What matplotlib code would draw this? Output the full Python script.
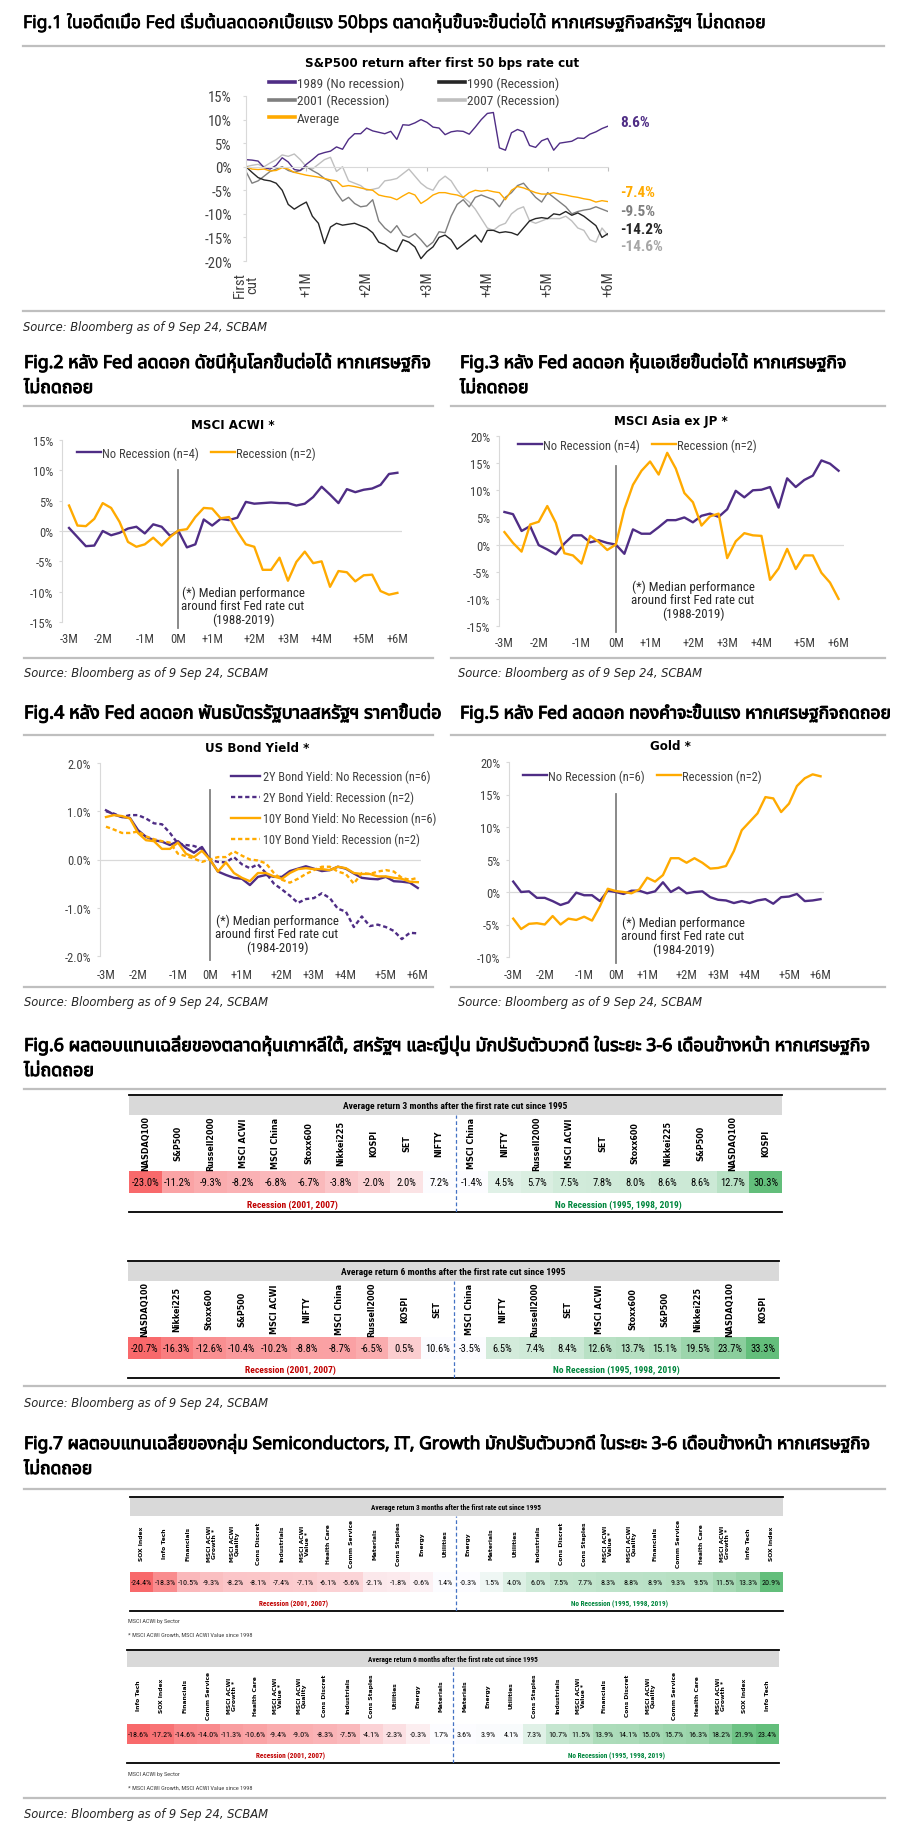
import numpy as np
import matplotlib
matplotlib.use('Agg')
import matplotlib.pyplot as plt
import matplotlib.font_manager as fm
import matplotlib.patheffects as pe
from matplotlib.ft2font import FT2Font
from matplotlib.lines import Line2D
from matplotlib.patches import Rectangle
from matplotlib.colors import LinearSegmentedColormap, Normalize

############# data #############
# Fig.1 S&P500 after first 50bps cut (about one value per 0.1 month)
sp_1989 = [1.5, 1.4, 1.2, -0.2, -0.5, 0.3, 1.9, 1.0, -0.6, -0.8, 0.5, 1.5, 2.6, 3.0, 3.3, 4.2, 3.7, 5.8, 7.0, 7.0,
           8.2, 7.6, 7.3, 7.0, 7.5, 5.8, 8.9, 8.8, 9.3, 10.0, 9.4, 8.4, 8.2, 6.8, 7.4, 7.6, 7.5, 6.9, 8.4, 10.0,
           11.3, 11.5, 4.0, 3.5, 7.2, 7.9, 7.4, 4.5, 4.1, 5.5, 6.0, 3.5, 5.0, 5.2, 5.4, 6.1, 6.0, 6.9, 7.4, 8.1, 8.6]
sp_1990 = [0.0, -1.2, -2.3, -2.8, -3.0, -3.5, -5.0, -8.0, -9.0, -8.2, -7.5, -10.5, -12.0, -16.3, -12.8, -12.0, -12.4,
           -12.2, -12.0, -12.5, -13.0, -14.0, -16.0, -16.5, -17.5, -18.0, -15.5, -16.0, -17.0, -19.5, -18.0, -17.0,
           -15.0, -14.5, -15.5, -17.5, -16.5, -15.5, -14.5, -16.0, -13.5, -13.5, -14.0, -13.8, -14.0, -14.5, -13.0,
           -11.5, -11.0, -10.8, -11.0, -10.0, -10.2, -9.5, -10.3, -9.8, -10.5, -11.5, -12.5, -15.0, -14.2]
sp_2001 = [-1.0, -3.5, -3.0, -2.0, -1.0, -0.5, 0.0, -0.8, -1.2, -0.8, 0.0, -0.8, -1.5, -2.5, -3.2, -5.5, -7.3, -6.5,
           -7.8, -8.5, -8.3, -7.0, -11.5, -13.0, -14.0, -12.5, -14.5, -15.0, -14.2, -15.5, -17.0, -16.0, -13.8, -14.0,
           -10.5, -8.0, -7.0, -8.5, -6.5, -6.0, -6.5, -7.0, -8.5, -6.5, -5.5, -4.0, -3.5, -5.0, -6.5, -7.5, -5.5,
           -6.5, -7.5, -8.5, -10.0, -9.5, -9.2, -9.0, -8.5, -9.0, -9.5]
sp_2007 = [0.0, 0.3, 0.5, 0.0, 0.8, 1.5, 2.5, 2.2, 2.7, 1.5, 0.0, -0.5, 0.5, 1.5, 2.0, -1.0, 0.0, -3.0, -3.5, -4.0,
           -5.0, -4.8, -4.5, -3.0, -2.8, -2.5, -1.5, -0.5, -2.0, -3.5, -4.5, -5.0, -3.0, -2.0, -3.0, -5.0, -6.5, -7.5,
           -9.0, -11.0, -13.0, -13.5, -12.5, -12.0, -10.0, -9.0, -8.5, -11.5, -12.0, -11.5, -11.0, -11.0, -11.0,
           -10.5, -11.5, -13.0, -13.5, -15.5, -16.0, -13.0, -14.6]
sp_avg = [0.0, -0.5, -0.6, -0.5, -0.9, -0.8, -0.2, -0.5, -1.2, -1.5, -1.8, -2.0, -2.2, -2.5, -2.8, -3.0, -4.2, -4.0,
          -4.2, -4.5, -4.8, -5.0, -6.0, -6.3, -6.5, -7.0, -6.2, -5.5, -6.0, -7.8, -7.0, -6.0, -5.5, -5.5, -5.8, -6.0,
          -6.5, -5.5, -5.0, -5.2, -5.0, -5.3, -5.5, -7.0, -5.0, -4.2, -4.5, -5.0, -5.5, -5.8, -5.8, -5.5, -5.8, -6.0,
          -6.3, -6.5, -6.8, -7.0, -7.5, -7.2, -7.4]
sp_months = ['First\ncut', '+1M', '+2M', '+3M', '+4M', '+5M', '+6M']

# Fig.2-5 weekly medians around first cut
week_ticks = [0, 4, 9, 13, 17, 22, 26, 30, 35, 39]
week_labels = ['-3M', '-2M', '-1M', '0M', '+1M', '+2M', '+3M', '+4M', '+5M', '+6M']

acwi_norec = [0.5, -1.0, -2.5, -2.4, 0.0, -0.7, -0.3, 0.4, 0.7, -0.4, 1.1, 0.7, -0.8, 0.0, -2.7, -2.2, 1.9, 0.9, 2.0,
              1.8, 2.2, 4.8, 4.5, 4.6, 4.7, 4.6, 4.6, 4.2, 4.5, 5.6, 7.3, 6.0, 4.6, 6.9, 6.4, 6.8, 7.0, 7.6, 9.4, 9.6]
acwi_rec = [4.2, 0.9, 0.8, 2.0, 4.6, 3.8, 1.5, -1.8, -2.6, -2.2, -1.1, -2.4, -1.0, 0.1, 0.3, 2.3, 3.8, 3.7, 2.1, 2.3,
            -0.1, -2.2, -2.6, -6.4, -6.4, -4.4, -8.2, -5.1, -3.4, -5.3, -5.0, -9.2, -6.6, -6.8, -8.3, -7.3, -7.2,
            -9.9, -10.5, -10.2]

asia_norec = [6.0, 5.6, 2.5, 3.4, -0.1, -0.9, -1.8, 0.2, 1.7, 1.7, 0.4, 0.8, 0.3, 0.0, -1.7, 2.8, 2.0, 2.0, 3.2, 4.5,
              4.5, 5.0, 4.1, 5.3, 5.7, 5.1, 6.5, 9.9, 8.7, 10.0, 10.1, 10.6, 6.8, 12.2, 10.6, 11.9, 12.7, 15.5, 14.9,
              13.6]
asia_rec = [2.3, 0.3, -1.3, 3.7, 4.2, 7.1, 4.0, -1.6, -2.0, -3.5, 1.6, 0.5, -1.0, 0.0, 6.5, 11.0, 13.6, 15.3, 12.9,
            16.9, 14.0, 9.5, 7.8, 3.5, 5.2, 5.7, -2.5, 0.6, 2.1, 1.7, 1.6, -6.5, -4.4, -0.8, -4.5, -2.0, -2.0, -5.2,
            -7.0, -10.0]

y2_norec = [1.02, 0.93, 0.88, 0.86, 0.61, 0.47, 0.40, 0.37, 0.30, 0.38, 0.24, 0.14, 0.26, 0.0, -0.25, -0.32, -0.38,
            -0.40, -0.53, -0.36, -0.32, -0.36, -0.36, -0.24, -0.19, -0.14, -0.19, -0.24, -0.22, -0.15, -0.19, -0.29,
            -0.38, -0.40, -0.41, -0.36, -0.45, -0.46, -0.48, -0.59]
y2_rec = [1.00, 0.95, 0.88, 0.92, 0.92, 0.85, 0.75, 0.73, 0.55, 0.33, 0.30, 0.28, 0.22, 0.0, -0.05, -0.06, 0.05,
          -0.10, -0.18, -0.10, -0.28, -0.50, -0.62, -0.75, -0.90, -0.82, -0.80, -0.70, -0.80, -1.02, -1.08, -1.40,
          -1.18, -1.38, -1.35, -1.40, -1.48, -1.65, -1.52, -1.53]
y10_norec = [0.88, 0.92, 0.90, 0.85, 0.55, 0.40, 0.38, 0.22, 0.22, 0.35, 0.12, 0.05, 0.18, 0.0, -0.25, -0.06, -0.28,
             -0.38, -0.45, -0.28, -0.28, -0.35, -0.40, -0.28, -0.20, -0.18, -0.20, -0.20, -0.22, -0.15, -0.18, -0.28,
             -0.30, -0.30, -0.35, -0.35, -0.38, -0.40, -0.46, -0.47]
y10_rec = [0.68, 0.62, 0.55, 0.55, 0.58, 0.48, 0.42, 0.38, 0.35, 0.12, 0.07, 0.02, -0.05, 0.0, 0.05, 0.05, 0.17, 0.08,
           0.0, -0.02, -0.08, -0.28, -0.42, -0.48, -0.40, -0.30, -0.22, -0.15, -0.15, -0.25, -0.30, -0.50, -0.28,
           -0.30, -0.25, -0.22, -0.25, -0.38, -0.42, -0.38]

gold_norec = [1.6, 0.0, 0.1, -0.9, -0.9, -1.4, -2.0, -1.6, -0.1, -0.5, -0.5, -1.4, 0.2, 0.0, -0.3, 0.2, 0.2, -0.2, 0.1,
              1.5, 0.0, 0.7, -0.2, 0.0, 0.1, -0.8, -1.2, -1.3, -1.7, -1.4, -1.7, -1.3, -1.1, -1.8, -0.8, -0.7, -0.3,
              -1.4, -1.3, -1.1]
gold_rec = [-4.1, -5.7, -4.9, -4.8, -5.0, -3.7, -5.0, -4.1, -4.3, -3.8, -4.4, -2.2, 0.5, 0.15, 0.0, -0.2, 0.4, 2.2,
            1.6, 2.6, 5.2, 5.2, 4.5, 5.2, 4.5, 3.6, 3.7, 4.0, 6.3, 9.5, 10.8, 12.1, 14.6, 14.4, 12.3, 13.6, 16.3,
            17.5, 18.1, 17.8]

# Fig.6 market tables
m3_rec_lbl = ['NASDAQ100', 'S&P500', 'Russell2000', 'MSCI ACWI', 'MSCI China', 'Stoxx600', 'Nikkei225', 'KOSPI', 'SET', 'NIFTY']
m3_rec_val = [-23.0, -11.2, -9.3, -8.2, -6.8, -6.7, -3.8, -2.0, 2.0, 7.2]
m3_nrec_lbl = ['MSCI China', 'NIFTY', 'Russell2000', 'MSCI ACWI', 'SET', 'Stoxx600', 'Nikkei225', 'S&P500', 'NASDAQ100', 'KOSPI']
m3_nrec_val = [-1.4, 4.5, 5.7, 7.5, 7.8, 8.0, 8.6, 8.6, 12.7, 30.3]
m6_rec_lbl = ['NASDAQ100', 'Nikkei225', 'Stoxx600', 'S&P500', 'MSCI ACWI', 'NIFTY', 'MSCI China', 'Russell2000', 'KOSPI', 'SET']
m6_rec_val = [-20.7, -16.3, -12.6, -10.4, -10.2, -8.8, -8.7, -6.5, 0.5, 10.6]
m6_nrec_lbl = ['MSCI China', 'NIFTY', 'Russell2000', 'SET', 'MSCI ACWI', 'Stoxx600', 'S&P500', 'Nikkei225', 'NASDAQ100', 'KOSPI']
m6_nrec_val = [-3.5, 6.5, 7.4, 8.4, 12.6, 13.7, 15.1, 19.5, 23.7, 33.3]

# Fig.7 sector tables
s3_rec_lbl = ['SOX Index', 'Info Tech', 'Financials', 'MSCI ACWI\nGrowth *', 'MSCI ACWI\nQuality', 'Cons Discret',
              'Industrials', 'MSCI ACWI\nValue *', 'Health Care', 'Comm Service', 'Materials', 'Cons Staples', 'Energy', 'Utilities']
s3_rec_val = [-24.4, -18.3, -10.5, -9.3, -8.2, -8.1, -7.4, -7.1, -6.1, -5.6, -2.1, -1.8, -0.6, 1.4]
s3_nrec_lbl = ['Energy', 'Materials', 'Utilities', 'Industrials', 'Cons Discret', 'Cons Staples', 'MSCI ACWI\nValue *',
               'MSCI ACWI\nQuality', 'Financials', 'Comm Service', 'Health Care', 'MSCI ACWI\nGrowth *', 'Info Tech', 'SOX Index']
s3_nrec_val = [-0.3, 1.5, 4.0, 6.0, 7.5, 7.7, 8.3, 8.8, 8.9, 9.3, 9.5, 11.5, 13.3, 20.9]
s6_rec_lbl = ['Info Tech', 'SOX Index', 'Financials', 'Comm Service', 'MSCI ACWI\nGrowth *', 'Health Care',
              'MSCI ACWI\nValue *', 'MSCI ACWI\nQuality', 'Cons Discret', 'Industrials', 'Cons Staples', 'Utilities', 'Energy', 'Materials']
s6_rec_val = [-18.6, -17.2, -14.6, -14.0, -11.3, -10.6, -9.4, -9.0, -8.3, -7.5, -4.1, -2.3, -0.3, 1.7]
s6_nrec_lbl = ['Materials', 'Energy', 'Utilities', 'Cons Staples', 'Industrials', 'MSCI ACWI\nValue *', 'Financials',
               'Cons Discret', 'MSCI ACWI\nQuality', 'Comm Service', 'Health Care', 'MSCI ACWI\nGrowth *', 'SOX Index', 'Info Tech']
s6_nrec_val = [3.6, 3.9, 4.1, 7.3, 10.7, 11.5, 13.9, 14.1, 15.0, 15.7, 16.3, 18.2, 21.9, 23.4]

SOURCE = 'Source: Bloomberg as of 9 Sep 24, SCBAM'

############# fonts #############
names = set(f.name for f in fm.fontManager.ttflist)

def pick(*cands):
    for c in cands:
        if c in names:
            return c
    return 'DejaVu Sans'

def thai_font():
    prefer = ['Noto Sans Thai', 'Noto Sans Thai UI', 'Noto Sans Thai Looped', 'Sarabun', 'Prompt', 'Kanit',
              'Loma', 'Garuda', 'Waree', 'Umpush', 'Sawasdee', 'Kinnari', 'Norasi', 'FreeSans']
    found = []
    for f in fm.fontManager.ttflist:
        try:
            if FT2Font(f.fname).get_char_index(0x0E01):
                found.append(f.name)
        except Exception:
            pass
    for p in prefer:
        if p in found:
            return p
    return found[0] if found else 'DejaVu Sans'

NARROW = pick('Liberation Sans Narrow', 'Roboto Condensed', 'Open Sans Condensed', 'Liberation Sans')
THAI = thai_font()
plt.rcParams['font.family'] = [NARROW, 'DejaVu Sans']

PURPLE = '#4F2D85'
ORANGE = '#FFAA00'
GRID = '#D9D9D9'
TXT = '#404040'

W, H = 900, 1840
fig = plt.figure(figsize=(W / 100, H / 100), dpi=100)

def ftext(x, y, s, **kw):
    return fig.text(x / W, 1 - y / H, s, **kw)

def fit(t, width):
    r = fig.canvas.get_renderer()
    w = t.get_window_extent(r).width
    t.set_fontsize(t.get_fontsize() * width / w)
    return t.get_fontsize()

def sep(y, x0, x1):
    fig.add_artist(Line2D([x0 / W, x1 / W], [1 - y / H] * 2, color='#BFBFBF', lw=1.6))

def title(x, y, lines, width, weight='bold', stroke=0.7, gap=25):
    # heavier look for the Thai headings
    fx = [pe.withStroke(linewidth=stroke, foreground='black')]
    t = ftext(x, y, lines[0], family=[THAI, 'DejaVu Sans'], weight=weight, fontsize=13, va='center',
              color='black', path_effects=fx)
    fs = fit(t, width)
    for i, s in enumerate(lines[1:]):
        ftext(x, y + gap * (i + 1), s, family=[THAI, 'DejaVu Sans'], weight=weight, fontsize=fs, va='center',
              path_effects=fx)

def source(x, y):
    ftext(x, y, SOURCE, family='DejaVu Sans', style='italic', fontsize=8.3, va='center', color='#262626')

def add_ax(x0, y0, x1, y1):
    ax = fig.add_axes([x0 / W, 1 - y1 / H, (x1 - x0) / W, (y1 - y0) / H])
    ax.patch.set_alpha(0)
    return ax

def legend(ax, x, y, ncol, fs=9, **kw):
    leg = ax.legend(loc='center left', bbox_to_anchor=(x / W, 1 - y / H), bbox_transform=fig.transFigure,
                    ncol=ncol, frameon=False, borderpad=0, borderaxespad=0, prop={'family': NARROW, 'size': fs}, **kw)
    for t in leg.get_texts():
        t.set_color(TXT)
    return leg

def line_panel(box, xlim, ylim, ystep, yfmt, vspan, pad):
    ax = add_ax(*box)
    ax.set_xlim(*xlim)
    ax.set_ylim(*ylim)
    yt = np.arange(ylim[0], ylim[1] + ystep / 2, ystep)
    ax.set_yticks(yt)
    ax.set_yticklabels([yfmt.format(v) for v in yt])
    ax.set_xticks(week_ticks)
    ax.set_xticklabels(week_labels)
    for s in ('top', 'right', 'bottom'):
        ax.spines[s].set_visible(False)
    ax.spines['left'].set_color(GRID)
    ax.tick_params(axis='y', length=2.2, width=0.8, color=GRID, pad=4.3, labelsize=9, labelcolor=TXT)
    ax.tick_params(axis='x', length=0, pad=pad, labelsize=9, labelcolor=TXT)
    ax.axhline(0, color=GRID, lw=0.9, zorder=1)
    ax.axvline(13, ymin=vspan[0], ymax=vspan[1], color='#808080', lw=1.3, clip_on=False, zorder=2)
    return ax

def note(x, y, years):
    ftext(x, y, '(*) Median performance\naround first Fed rate cut\n(%s)' % years, ha='center', va='center',
          fontsize=9.3, linespacing=1.05, color='#262626')

############# Fig.1 #############
title(23, 24, ['Fig.1 ในอดีตเมื่อ Fed เริ่มต้นลดดอกเบี้ยแรง 50bps ตลาดหุ้นขึ้นจะขึ้นต่อได้ หากเศรษฐกิจสหรัฐฯ ไม่ถดถอย'],
      746, weight='normal', stroke=0.5)
sep(47, 23, 884)
ftext(442, 63, 'S&P500 return after first 50 bps rate cut', family='DejaVu Sans', weight='bold', fontsize=8.6,
      ha='center', va='center')

ax1 = add_ax(246, 97, 608, 262)
sp_x = np.linspace(0, 6, len(sp_1989))
ax1.plot(sp_x, sp_2007, color='#BFBFBF', lw=1.0, label='2007 (Recession)')
ax1.plot(sp_x, sp_2001, color='#7F7F7F', lw=1.0, label='2001 (Recession)')
ax1.plot(sp_x, sp_1990, color='#262626', lw=1.0, label='1990 (Recession)')
ax1.plot(sp_x, sp_1989, color=PURPLE, lw=1.0, label='1989 (No recession)')
ax1.plot(sp_x, sp_avg, color=ORANGE, lw=1.0, label='Average')
ax1.set_xlim(0, 6)
ax1.set_ylim(-20, 15)
yt = np.arange(-20, 16, 5)
ax1.set_yticks(yt)
ax1.set_yticklabels(['%d%%' % v for v in yt])
for s in ('top', 'right'):
    ax1.spines[s].set_visible(False)
ax1.spines['left'].set_color(GRID)
ax1.spines['bottom'].set_position(('data', 0))
ax1.spines['bottom'].set_color(GRID)
ax1.set_xticks(range(7))
ax1.tick_params(axis='x', length=3, color='#BFBFBF', labelbottom=False)
ax1.tick_params(axis='y', length=2.2, color=GRID, pad=8, labelsize=10.5, labelcolor=TXT)
sec = ax1.secondary_xaxis('bottom')
sec.set_xticks(range(7))
sec.set_xticklabels(sp_months, rotation=90, va='top', ha='center', fontsize=10.5, color=TXT, linespacing=0.9)
sec.spines['bottom'].set_visible(False)
sec.tick_params(length=0, pad=7)

h = {l.get_label(): l for l in ax1.get_lines()}
order = ['1989 (No recession)', '2001 (Recession)', 'Average', '1990 (Recession)', '2007 (Recession)']
leg = ax1.legend([h[k] for k in order], order, loc='center left', bbox_to_anchor=(269 / W, 1 - 101.5 / H),
                 bbox_transform=fig.transFigure, ncol=2, frameon=False, borderpad=0, borderaxespad=0,
                 handlelength=1.95, handletextpad=0.15, columnspacing=2.6, labelspacing=0.33,
                 prop={'family': NARROW, 'size': 9.6})
for l in leg.get_lines():
    l.set_linewidth(2.6)
for t in leg.get_texts():
    t.set_color(TXT)

end_y = [123, 193, 212, 230, 247]
end_series = [(sp_1989, PURPLE), (sp_avg, ORANGE), (sp_2001, '#7F7F7F'), (sp_1990, '#262626'), (sp_2007, '#A6A6A6')]
for yy, (s, c) in zip(end_y, end_series):
    ftext(620, yy, '%.1f%%' % s[-1], color=c, weight='bold', fontsize=11, va='center')

sep(312, 23, 884)
source(23, 327)

############# Fig.2 #############
title(24, 364, ['Fig.2 หลัง Fed ลดดอก ดัชนีหุ้นโลกขึ้นต่อได้ หากเศรษฐกิจ', 'ไม่ถดถอย'], 409)
sep(407, 24, 433)
ftext(233, 426, 'MSCI ACWI *', family='DejaVu Sans', weight='bold', fontsize=8.6, ha='center', va='center')
wk = np.arange(40)
ax2 = line_panel((62.3, 441, 401.6, 623), (-0.8, 39.5), (-15, 15), 5, '{:.0f}%', (-0.033, 0.837), 7.2)
ax2.plot(wk, acwi_norec, color=PURPLE, lw=1.7, label='No Recession (n=4)')
ax2.plot(wk, acwi_rec, color=ORANGE, lw=1.7, label='Recession (n=2)')
legend(ax2, 77, 454, 2, handlelength=1.9, handletextpad=0.1, columnspacing=1.0)
note(243, 607, '1988-2019')
sep(659, 24, 433)
source(24, 674)

############# Fig.3 #############
title(460, 364, ['Fig.3 หลัง Fed ลดดอก หุ้นเอเชียขึ้นต่อได้ หากเศรษฐกิจ', 'ไม่ถดถอย'], 388)
sep(407, 451, 885)
ftext(671, 421, 'MSCI Asia ex JP *', family='DejaVu Sans', weight='bold', fontsize=8.6, ha='center', va='center')
ax3 = line_panel((499.3, 437, 843.7, 627), (-0.6, 39.6), (-15, 20), 5, '{:.0f}%', (-0.034, 0.843), 7.2)
ax3.plot(wk, asia_norec, color=PURPLE, lw=1.7, label='No Recession (n=4)')
ax3.plot(wk, asia_rec, color=ORANGE, lw=1.7, label='Recession (n=2)')
legend(ax3, 518, 446, 2, handlelength=1.9, handletextpad=0.1, columnspacing=1.0)
note(693, 601, '1988-2019')
sep(659, 451, 885)
source(458, 674)

############# Fig.4 #############
title(24, 714, ['Fig.4 หลัง Fed ลดดอก พันธบัตรรัฐบาลสหรัฐฯ ราคาขึ้นต่อ'], 419)
sep(736, 24, 433)
ftext(257, 749, 'US Bond Yield *', family='DejaVu Sans', weight='bold', fontsize=8.6, ha='center', va='center')
ax4 = line_panel((100, 764, 421, 957), (-0.75, 39.4), (-2, 2), 1, '{:.1f}%', (-0.02, 0.858), 8.6)
dash = (0, (1.8, 1.2))
ax4.plot(wk, y2_norec, color=PURPLE, lw=1.7, label='2Y Bond Yield: No Recession (n=6)')
ax4.plot(wk, y2_rec, color=PURPLE, lw=1.7, ls=dash, label='2Y Bond Yield: Recession (n=2)')
ax4.plot(wk, y10_norec, color=ORANGE, lw=1.7, label='10Y Bond Yield: No Recession (n=6)')
ax4.plot(wk, y10_rec, color=ORANGE, lw=1.7, ls=dash, label='10Y Bond Yield: Recession (n=2)')
legend(ax4, 231, 809, 1, fs=8.8, handlelength=2.4, handletextpad=0.25, labelspacing=0.62)
note(277, 935, '1984-2019')
sep(988, 24, 433)
source(24, 1003)

############# Fig.5 #############
title(460, 714, ['Fig.5 หลัง Fed ลดดอก ทองคำจะขึ้นแรง หากเศรษฐกิจถดถอย'], 433)
sep(736, 451, 885)
ftext(670, 747, 'Gold *', family='DejaVu Sans', weight='bold', fontsize=8.6, ha='center', va='center')
ax5 = line_panel((509.3, 763, 823.7, 958), (-0.5, 39.4), (-10, 20), 5, '{:.0f}%', (-0.033, 0.838), 7.9)
ax5.plot(wk, gold_norec, color=PURPLE, lw=1.7, label='No Recession (n=6)')
ax5.plot(wk, gold_rec, color=ORANGE, lw=1.7, label='Recession (n=2)')
legend(ax5, 523, 777, 2, handlelength=1.9, handletextpad=0.1, columnspacing=1.0)
note(683, 937, '1984-2019')
sep(988, 451, 885)
source(458, 1003)

############# tables #############
red_map = LinearSegmentedColormap.from_list('rec', ['#F8696B', '#FCFCFF'])
green_map = LinearSegmentedColormap.from_list('nrec', ['#FCFCFF', '#63BE7B'])

def table(x0, x1, ytop, rows, head, rec_lbl, rec_val, nrec_lbl, nrec_val, fs):
    hdr0, hdr1, lab0, lab1, val0, val1, txt, bot = rows
    n_r = len(rec_lbl)
    n = n_r + len(nrec_lbl)
    ax = add_ax(x0, ytop, x1, ytop + bot)
    ax.set_xlim(0, n)
    ax.set_ylim(bot, 0)
    ax.axis('off')
    ax.add_patch(Rectangle((0, hdr0), n, hdr1 - hdr0, facecolor='#D9D9D9', edgecolor='none'))
    ax.text(n / 2, (hdr0 + hdr1) / 2, head, ha='center', va='center', fontsize=fs['hdr'], weight='bold')
    ax.axhline(0, color='black', lw=1.3, clip_on=False)
    ax.axhline(bot, color='black', lw=1.3, clip_on=False)
    cols = list(red_map(Normalize(min(rec_val), max(rec_val))(rec_val))) + \
        list(green_map(Normalize(min(nrec_val), max(nrec_val))(nrec_val)))
    for i, (lbl, v, c) in enumerate(zip(rec_lbl + nrec_lbl, rec_val + nrec_val, cols)):
        ax.add_patch(Rectangle((i, val0), 1, val1 - val0, facecolor=c, edgecolor='none'))
        ax.text(i + 0.5, (val0 + val1) / 2, '%.1f%%' % v, ha='center', va='center', fontsize=fs['val'])
        ax.text(i + 0.5, (lab0 + lab1) / 2, lbl, rotation=90, ha='center', va='center', fontsize=fs['lab'],
                weight='bold', family='DejaVu Sans', linespacing=0.95, multialignment='center')
    ax.axvline(n_r, ymin=0, ymax=1 - hdr1 / bot, color='#4472C4', lw=0.9, ls=(0, (3, 2)))
    ax.text(n_r / 2, txt, 'Recession (2001, 2007)', color='#C00000', weight='bold', fontsize=fs['hdr'],
            ha='center', va='center')
    ax.text((n_r + n) / 2, txt, 'No Recession (1995, 1998, 2019)', color='#00863D', weight='bold',
            fontsize=fs['hdr'], ha='center', va='center')

def foot(y):
    ftext(128, y, 'MSCI ACWI by Sector', fontsize=4.5, va='center', color=TXT)
    ftext(128, y + 13, '* MSCI ACWI Growth, MSCI ACWI Value since 1998', fontsize=4.5, va='center', color=TXT)

############# Fig.6 #############
title(24, 1047, ['Fig.6 ผลตอบแทนเฉลี่ยของตลาดหุ้นเกาหลีใต้, สหรัฐฯ และญี่ปุ่น มักปรับตัวบวกดี ในระยะ 3-6 เดือนข้างหน้า หากเศรษฐกิจ',
                 'ไม่ถดถอย'], 850)
sep(1090, 24, 885)
fs6 = {'hdr': 6.8, 'val': 7.6, 'lab': 5.8}
table(129, 782, 1096, (1, 20, 21, 74, 76, 98, 109, 117), 'Average return 3 months after the first rate cut since 1995',
      m3_rec_lbl, m3_rec_val, m3_nrec_lbl, m3_nrec_val, fs6)
table(128, 779, 1262, (1, 20, 21, 74, 76, 98, 108, 117), 'Average return 6 months after the first rate cut since 1995',
      m6_rec_lbl, m6_rec_val, m6_nrec_lbl, m6_nrec_val, fs6)
sep(1387, 24, 885)
source(24, 1404)

############# Fig.7 #############
title(24, 1445, ['Fig.7 ผลตอบแทนเฉลี่ยของกลุ่ม Semiconductors, IT, Growth มักปรับตัวบวกดี ในระยะ 3-6 เดือนข้างหน้า หากเศรษฐกิจ',
                 'ไม่ถดถอย'], 850)
sep(1490, 24, 885)
fs7 = {'hdr': 5.2, 'val': 5.8, 'lab': 4.3}
table(130, 783, 1498, (1, 19, 20, 72, 75, 95, 105, 114), 'Average return 3 months after the first rate cut since 1995',
      s3_rec_lbl, s3_rec_val, s3_nrec_lbl, s3_nrec_val, fs7)
foot(1622)
table(127, 779, 1651, (1, 17, 18, 72, 74, 94, 104, 113), 'Average return 6 months after the first rate cut since 1995',
      s6_rec_lbl, s6_rec_val, s6_nrec_lbl, s6_nrec_val, fs7)
foot(1775)
sep(1799, 24, 885)
source(24, 1815)

fig.savefig('out.png', dpi=100)
